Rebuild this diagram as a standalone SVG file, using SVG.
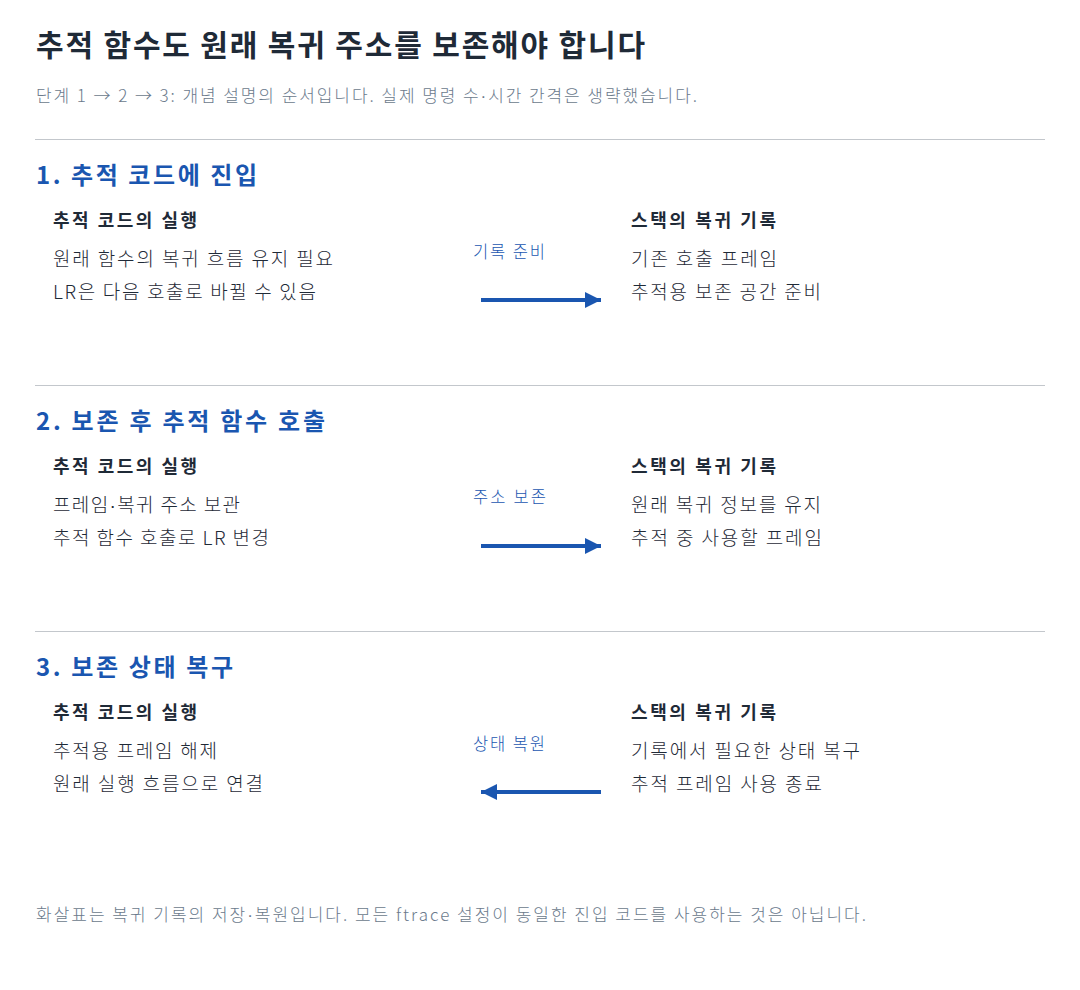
<svg xmlns="http://www.w3.org/2000/svg" width="1080" height="990" viewBox="0 0 1080 990">
<defs>
<style>
text{font-family:"Noto Sans CJK KR","Liberation Sans",sans-serif}
.title{font-size:30px;font-weight:700;fill:#1f2a37}
.sub{font-size:17px;font-weight:300;fill:#6b7a8c}
.hdr{font-size:24px;font-weight:700;fill:#1a56b0}
.col{font-size:18px;font-weight:700;fill:#1f2a37}
.body{font-size:19px;font-weight:300;fill:#1f2a37}
.lbl{font-size:16.5px;font-weight:300;fill:#1a56b0}
.dot{font-family:"Liberation Sans",sans-serif}
.div{stroke:#c3c7cc;stroke-width:1}
.arr{stroke:#1a56b0;stroke-width:4;fill:none}
</style>
<marker id="ah" viewBox="0 0 10 10" refX="10" refY="5" markerWidth="4" markerHeight="4" orient="auto" markerUnits="strokeWidth">
<path d="M0,0 L10,5 L0,10 Z" fill="#1a56b0"/>
</marker>
</defs>
<rect width="1080" height="990" fill="#ffffff"/>
<g id="header">
<text class="title" x="36" y="56" textLength="609">추적 함수도 원래 복귀 주소를 보존해야 합니다</text>
<text class="sub" x="36" y="102" textLength="661">단계 1 → 2 → 3: 개념 설명의 순서입니다. 실제 명령 수<tspan class="dot">·</tspan>시간 간격은 생략했습니다.</text>
</g>
<g id="dividers">
<line class="div" x1="35" y1="139.5" x2="1045" y2="139.5"/>
<line class="div" x1="35" y1="385.5" x2="1045" y2="385.5"/>
<line class="div" x1="35" y1="631.5" x2="1045" y2="631.5"/>
</g>
<g id="step1">
<text class="hdr" x="36" y="184" textLength="221">1. 추적 코드에 진입</text>
<g id="s1-code"><text class="col" x="53" y="227" textLength="144">추적 코드의 실행</text>
<text class="body" x="53" y="266" textLength="280">원래 함수의 복귀 흐름 유지 필요</text>
<text class="body" x="53" y="299" textLength="263">LR은 다음 호출로 바뀔 수 있음</text></g>
<g id="s1-stack"><text class="col" x="631" y="227" textLength="145">스택의 복귀 기록</text>
<text class="body" x="631" y="266" textLength="146">기존 호출 프레임</text>
<text class="body" x="631" y="299" textLength="190">추적용 보존 공간 준비</text></g>
</g>
<g id="step2">
<text class="hdr" x="36" y="430" textLength="289">2. 보존 후 추적 함수 호출</text>
<g id="s2-code"><text class="col" x="53" y="473" textLength="144">추적 코드의 실행</text>
<text class="body" x="53" y="512" textLength="187">프레임<tspan class="dot">·</tspan>복귀 주소 보관</text>
<text class="body" x="53" y="545" textLength="216">추적 함수 호출로 LR 변경</text></g>
<g id="s2-stack"><text class="col" x="631" y="473" textLength="145">스택의 복귀 기록</text>
<text class="body" x="631" y="512" textLength="190">원래 복귀 정보를 유지</text>
<text class="body" x="631" y="545" textLength="191">추적 중 사용할 프레임</text></g>
</g>
<g id="step3">
<text class="hdr" x="36" y="676" textLength="197">3. 보존 상태 복구</text>
<g id="s3-code"><text class="col" x="53" y="719" textLength="144">추적 코드의 실행</text>
<text class="body" x="53" y="758" textLength="164">추적용 프레임 해제</text>
<text class="body" x="53" y="791" textLength="210">원래 실행 흐름으로 연결</text></g>
<g id="s3-stack"><text class="col" x="631" y="719" textLength="145">스택의 복귀 기록</text>
<text class="body" x="631" y="758" textLength="229">기록에서 필요한 상태 복구</text>
<text class="body" x="631" y="791" textLength="191">추적 프레임 사용 종료</text></g>
</g>
<g id="connectors">
<line class="arr" x1="481" y1="300" x2="601" y2="300" marker-end="url(#ah)"/>
<text class="lbl" x="473" y="258" textLength="72">기록 준비</text>
<line class="arr" x1="481" y1="546" x2="601" y2="546" marker-end="url(#ah)"/>
<text class="lbl" x="473" y="503" textLength="73">주소 보존</text>
<line class="arr" x1="601" y1="792" x2="481" y2="792" marker-end="url(#ah)"/>
<text class="lbl" x="473" y="750" textLength="72">상태 복원</text>
</g>
<text class="sub" x="36" y="921" textLength="830">화살표는 복귀 기록의 저장<tspan class="dot">·</tspan>복원입니다. 모든 ftrace 설정이 동일한 진입 코드를 사용하는 것은 아닙니다.</text>
</svg>
